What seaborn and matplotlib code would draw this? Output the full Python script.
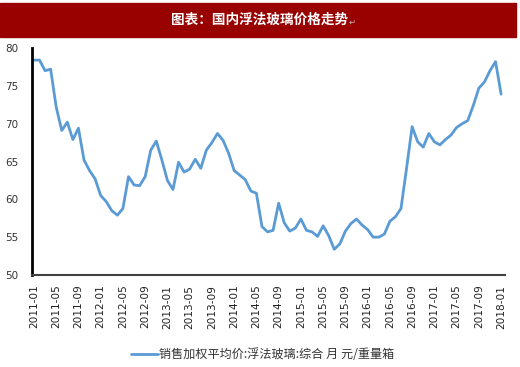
import pandas as pd
import numpy as np
import seaborn as sns
import matplotlib.pyplot as plt
from matplotlib.patches import Rectangle

# monthly price, 2011-01 .. 2018-01
months = pd.date_range("2011-01", periods=85, freq="MS").strftime("%Y-%m").tolist()
price = [78.4, 78.4, 77.0, 77.2, 72.2, 69.1, 70.2, 67.9, 69.4, 65.2, 63.8, 62.7,
         60.5, 59.7, 58.5, 57.9, 58.8, 63.0, 61.9, 61.8, 63.0, 66.5, 67.7, 65.2,
         62.5, 61.3, 64.9, 63.6, 64.0, 65.3, 64.1, 66.5, 67.5, 68.7, 67.8, 66.1,
         63.8, 63.2, 62.6, 61.1, 60.8, 56.4, 55.7, 55.9, 59.5, 56.9, 55.8, 56.2,
         57.4, 55.9, 55.7, 55.1, 56.5, 55.2, 53.4, 54.1, 55.8, 56.8, 57.4, 56.6,
         56.0, 55.0, 55.0, 55.4, 57.1, 57.7, 58.8, 64.1, 69.6, 67.6, 66.9, 68.7,
         67.6, 67.2, 67.9, 68.5, 69.5, 70.0, 70.4, 72.4, 74.7, 75.5, 77.0, 78.2,
         73.9]
series_name = "销售加权平均价:浮法玻璃:综合 月 元/重量箱"
title = "图表：国内浮法玻璃价格走势"
yticks = [50, 55, 60, 65, 70, 75, 80]

df = pd.DataFrame({"idx": range(len(months)), "month": months, "price": price})

sns.set_style("white")
plt.rcParams["font.family"] = ["Noto Sans CJK SC", "DejaVu Sans"]

fig = plt.figure(figsize=(5.2, 3.67), dpi=100)
ax = fig.add_axes([32 / 520, 1 - 275 / 367, 473 / 520, 227 / 367])

sns.lineplot(data=df, x="idx", y="price", ax=ax, color="#5B9BD5",
             linewidth=2, label=series_name)

ax.set_xlim(-0.35, 84.7)
ax.set_ylim(50, 80)
ax.set_yticks(yticks)
ax.set_yticklabels([str(v) for v in yticks], fontsize=7.5, color="#333333",
                   family="DejaVu Sans")
ax.set_xticks(df["idx"][::4])
ax.set_xticklabels(df["month"][::4], rotation=90, fontsize=7.6,
                   color="#222222", family="DejaVu Sans")
ax.tick_params(axis="y", length=0, pad=10)
ax.tick_params(axis="x", length=0, pad=7)
ax.set_xlabel("")
ax.set_ylabel("")
for s in ["top", "right"]:
    ax.spines[s].set_visible(False)
ax.spines["left"].set_color("black")
ax.spines["left"].set_linewidth(2)
ax.spines["bottom"].set_color("#404040")
ax.spines["bottom"].set_linewidth(1.5)

# legend at bottom
handles, labels = ax.get_legend_handles_labels()
ax.get_legend().remove()
fig.legend(handles, labels, loc="center", bbox_to_anchor=(263 / 520, 1 - 355 / 367),
           frameon=False, fontsize=8.7, handlelength=2.2, handletextpad=0.1,
           labelcolor="#333333")

# title bar
fig.patches.append(Rectangle((0, 1 - 37 / 367), 516 / 520, 34 / 367,
                             transform=fig.transFigure, color="#990000", zorder=0))
fig.text(260 / 520, 1 - 20 / 367, title, color="white", fontsize=9.8,
         fontweight="bold", ha="center", va="center")
fig.text(349 / 520, 1 - 22 / 367, "↵", color="#bbbbbb", fontsize=6,
         ha="left", va="center", family=["DejaVu Sans"])

fig.savefig("out.png", dpi=100)
